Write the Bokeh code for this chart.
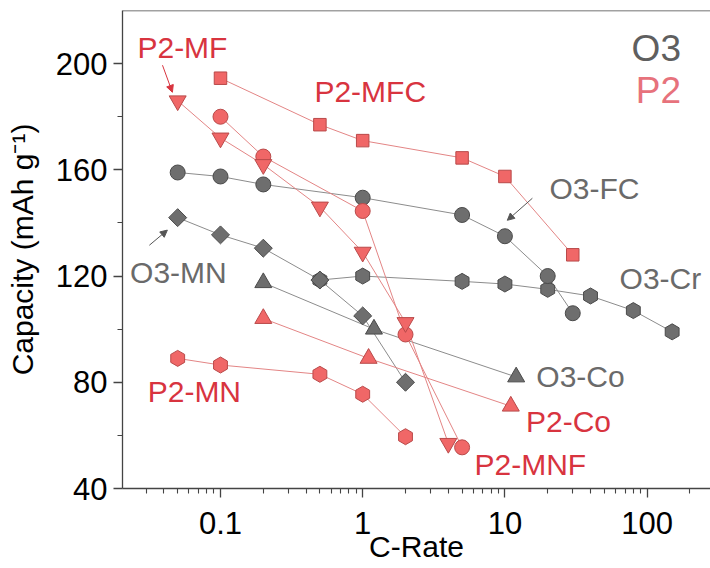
import numpy as np
from bokeh.plotting import figure
from bokeh.models import (FixedTicker, CustomJSTickFormatter, Span, Label, Arrow,
                          NormalHead, Range1d)
from bokeh.embed import file_html
from bokeh.resources import INLINE

# ---------------- data (C-rate, capacity mAh/g) ----------------
o3_fc_x = [0.05, 0.1, 0.2, 1, 5, 10, 20, 30]
o3_fc_y = [159, 157.5, 154.5, 149.5, 143, 135, 120, 106]
o3_mn_x = [0.05, 0.1, 0.2, 0.5, 1, 2]
o3_mn_y = [142, 135.5, 130.5, 118.5, 105, 80]
o3_co_x = [0.2, 1.2, 12]
o3_co_y = [117.5, 100, 82]
o3_cr_x = [0.5, 1, 5, 10, 20, 40, 80, 150]
o3_cr_y = [118.5, 120, 118, 117, 115, 112.5, 107, 99]

p2_mfc_x = [0.1, 0.5, 1, 5, 10, 30]
p2_mfc_y = [194.5, 177, 171, 164.5, 157.5, 128]
p2_mf_x = [0.05, 0.1, 0.2, 0.5, 1, 2, 4]
p2_mf_y = [186, 172, 162, 146, 129, 102.5, 57]
p2_mnf_x = [0.1, 0.2, 1, 2, 5]
p2_mnf_y = [180, 165, 144.5, 98, 55.5]
p2_co_x = [0.2, 1.1, 11]
p2_co_y = [104, 89, 71]
p2_mn_x = [0.05, 0.1, 0.5, 1, 2]
p2_mn_y = [89, 86.5, 83, 75.5, 59.5]

x_major = [0.1, 1, 10, 100]
x_minor = [0.03, 0.04, 0.05, 0.06, 0.07, 0.08, 0.09,
           0.2, 0.3, 0.4, 0.5, 0.6, 0.7, 0.8, 0.9,
           2, 3, 4, 5, 6, 7, 8, 9,
           20, 30, 40, 50, 60, 70, 80, 90, 200]
y_major = [40, 80, 120, 160, 200]
y_minor = [60, 100, 140, 180]

# series labels: text, x, y, group
label_text = ["P2-MF", "P2-MFC", "O3-FC", "O3-Cr", "O3-MN", "O3-Co", "P2-Co", "P2-MNF", "P2-MN"]
label_x = [0.054, 1.13, 42.6, 124, 0.0506, 34, 28, 15.1, 0.0655]
label_y = [206.1, 189.6, 153.1, 119.2, 121.5, 82.3, 65.4, 49.2, 76.4]
label_grp = ["P2", "P2", "O3", "O3", "O3", "O3", "P2", "P2", "P2"]

legend_text = ["O3", "P2"]
legend_x = [116, 120]
legend_y = [205.8, 190]

# arrows: x_start, y_start, x_end, y_end, group
arrow_x0 = [0.0391, 0.0316, 15.6]
arrow_y0 = [199.4, 131.6, 149.3]
arrow_x1 = [0.0459, 0.0423, 10.4]
arrow_y1 = [189.2, 137.3, 141.0]
arrow_grp = ["P2", "O3", "O3"]

X_START, X_END = 0.02046, 279.1

# ---------------- styling ----------------
GRAY_FILL, GRAY_EDGE, GRAY_LINE = "#6e6e6e", "#4a4a4a", "#8c8c8c"
RED_FILL, RED_EDGE, RED_LINE = "#f06767", "#b94a4a", "#e38585"
TXT = {"O3": "#6a6a6a", "P2": "#d8343f"}
LEG = {"O3": "#5f5f5f", "P2": "#e7727c"}
FONT = "Liberation Sans"
AX = "#444444"

p = figure(width=710, height=568, x_axis_type="log",
           x_range=Range1d(X_START, X_END), y_range=Range1d(40, 220),
           output_backend="svg", toolbar_location=None,
           min_border_left=122, min_border_right=0, min_border_top=10, min_border_bottom=80)
p.outline_line_color = None
p.xgrid.grid_line_color = None
p.ygrid.grid_line_color = None

for ax in (p.xaxis[0], p.yaxis[0]):
    ax.axis_line_color = AX
    ax.axis_line_width = 1.3
    ax.major_tick_line_color = AX
    ax.minor_tick_line_color = AX
    ax.major_tick_line_width = 1.3
    ax.minor_tick_line_width = 1.1
    ax.major_tick_in = 0
    ax.major_tick_out = 9
    ax.minor_tick_in = 0
    ax.minor_tick_out = 5
    ax.major_label_text_font = FONT
    ax.major_label_text_font_size = "31px"
    ax.major_label_text_color = "black"
    ax.axis_label_text_font = FONT
    ax.axis_label_text_font_size = "30px"
    ax.axis_label_text_font_style = "normal"
    ax.axis_label_text_color = "black"

p.xaxis.ticker = FixedTicker(ticks=x_major, minor_ticks=x_minor)
p.xaxis.formatter = CustomJSTickFormatter(code="return tick.toString();")
p.xaxis.major_label_standoff = 14
p.xaxis.axis_label = "C-Rate"
p.xaxis.axis_label_standoff = -7
p.yaxis.ticker = FixedTicker(ticks=y_major, minor_ticks=y_minor)
p.yaxis.major_label_standoff = 6
p.yaxis.axis_label = "Capacity (mAh g\u207b\u00b9)"
p.yaxis.axis_label_standoff = 14

p.add_layout(Span(location=220, dimension="width", line_color=AX, line_width=1.3))

series = [
    (o3_cr_x, o3_cr_y, "hex", 16, np.pi / 6, "O3"),
    (o3_fc_x, o3_fc_y, "circle", 15, 0, "O3"),
    (o3_mn_x, o3_mn_y, "square", 12.7, np.pi / 4, "O3"),
    (o3_co_x, o3_co_y, "triangle", 17, 0, "O3"),
    (p2_mfc_x, p2_mfc_y, "square", 12.5, 0, "P2"),
    (p2_mnf_x, p2_mnf_y, "circle", 15, 0, "P2"),
    (p2_mf_x, p2_mf_y, "inverted_triangle", 17, 0, "P2"),
    (p2_co_x, p2_co_y, "triangle", 17, 0, "P2"),
    (p2_mn_x, p2_mn_y, "hex", 16, np.pi / 6, "P2"),
]

for xs, ys, m, s, a, g in series:
    p.line(xs, ys, line_color=GRAY_LINE if g == "O3" else RED_LINE, line_width=1)
for xs, ys, m, s, a, g in series:
    p.scatter(xs, ys, marker=m, size=s, angle=a,
              fill_color=GRAY_FILL if g == "O3" else RED_FILL,
              line_color=GRAY_EDGE if g == "O3" else RED_EDGE, line_width=1)

for t, x, y, g in zip(label_text, label_x, label_y, label_grp):
    p.add_layout(Label(x=x, y=y, text=t, text_font=FONT, text_font_size="30px",
                       text_color=TXT[g], text_align="center", text_baseline="middle"))
for t, x, y in zip(legend_text, legend_x, legend_y):
    p.add_layout(Label(x=x, y=y, text=t, text_font=FONT, text_font_size="37px",
                       text_color=LEG[t], text_align="center", text_baseline="middle"))

for x0, y0, x1, y1, g in zip(arrow_x0, arrow_y0, arrow_x1, arrow_y1, arrow_grp):
    c = "#d8343f" if g == "P2" else "#555555"
    p.add_layout(Arrow(x_start=x0, y_start=y0, x_end=x1, y_end=y1, line_color=c, line_width=1,
                       end=NormalHead(size=7, fill_color=c, line_color=c)))

open("out.html", "w").write(file_html(p, INLINE))
